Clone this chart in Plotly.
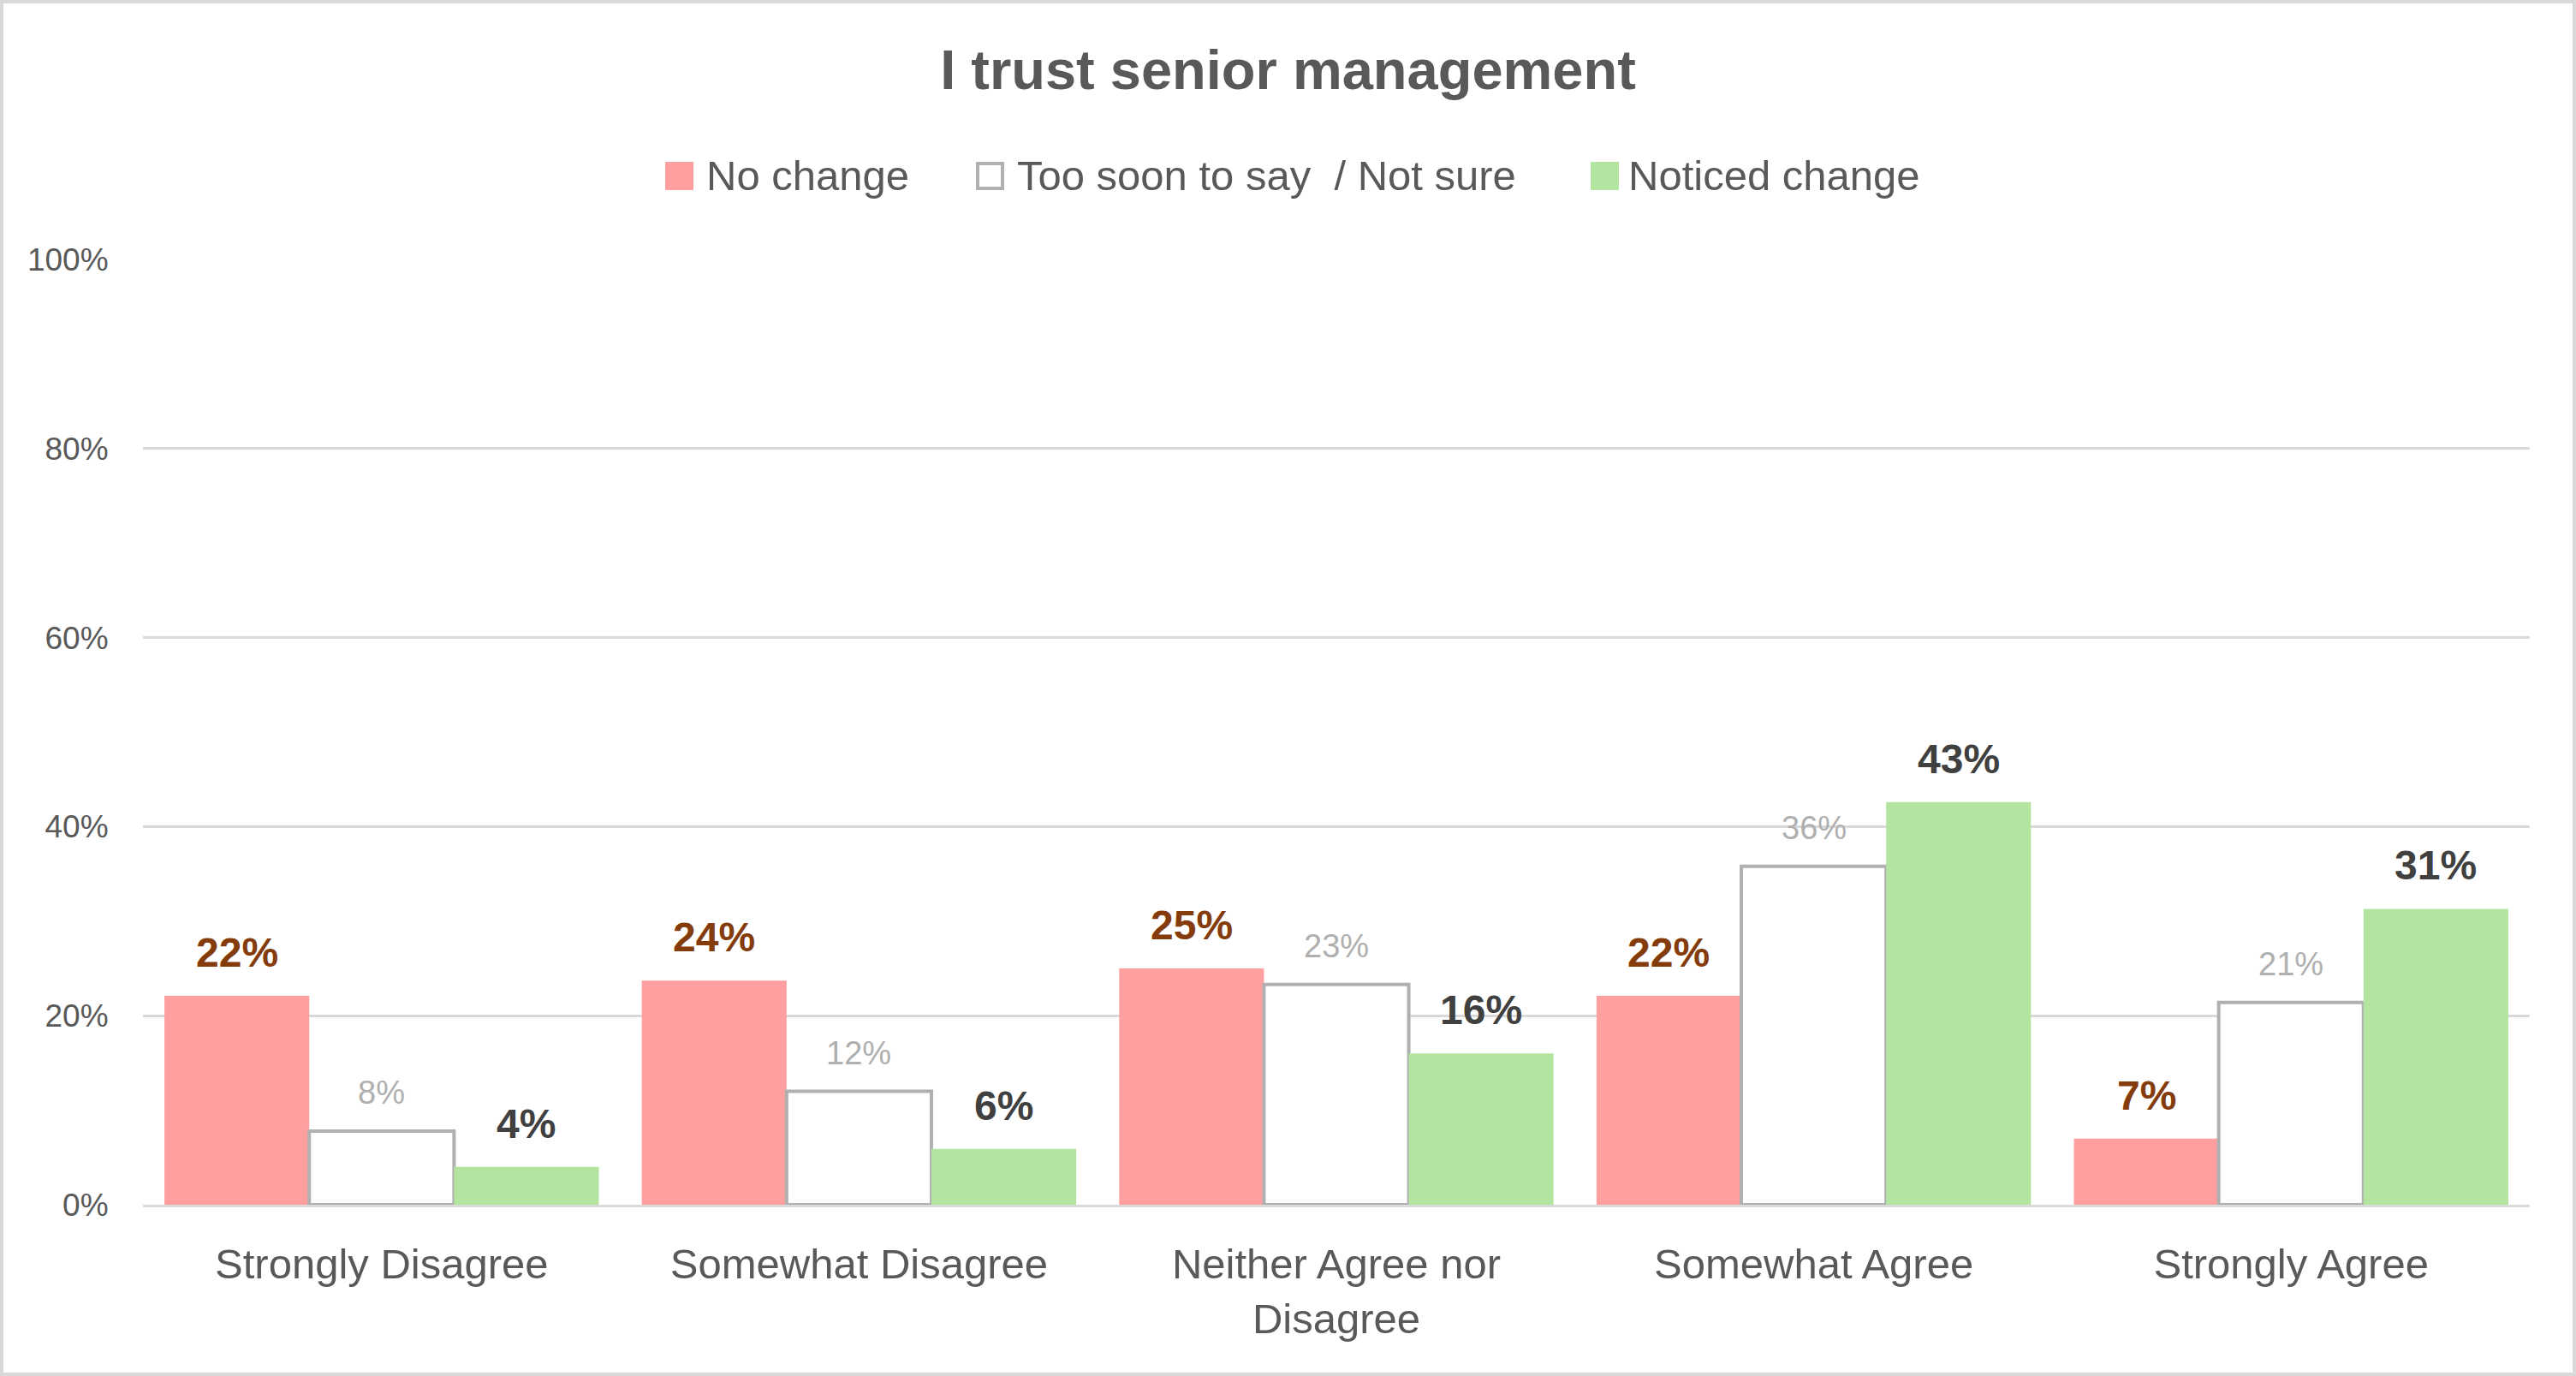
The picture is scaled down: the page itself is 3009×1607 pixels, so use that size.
import plotly.graph_objects as go

# Survey answers and the share of each group giving them
categories = ["Strongly Disagree", "Somewhat Disagree", "Neither Agree nor<br>Disagree",
              "Somewhat Agree", "Strongly Agree"]
no_change = [0.221, 0.237, 0.250, 0.221, 0.070]
too_soon = [0.078, 0.120, 0.233, 0.358, 0.214]
noticed = [0.040, 0.059, 0.160, 0.426, 0.313]
series_names = ["No change", "Too soon to say  / Not sure", "Noticed change"]
y_ticks = [0, 0.2, 0.4, 0.6, 0.8, 1.0]
y_tick_labels = ["0%", "20%", "40%", "60%", "80%", "100%"]

W, H = 3009, 1607
L, R, T, B = 167, 54, 303, 200
FONT = "Liberation Sans"
GREY = "#595959"
BARGAP = 0.09


# helpers to place legend pieces in paper coords from pixel positions
def px(x):
    return (x - L) / (W - L - R)


def py(y):
    return (H - B - y) / (H - T - B)


bar_px = (W - L - R) / len(categories) * (1 - BARGAP) / 3

series = [
    dict(y=no_change, fill="#FF9F9F", line=dict(width=0),
         lab="<b>{:.0%}</b>", lab_font=dict(color="#843C0C", size=48, family=FONT)),
    dict(y=too_soon, fill="white", line=dict(width=4, color="#B0B0B0"),
         lab="{:.0%}", lab_font=dict(color="#AFAFAF", size=38, family=FONT)),
    dict(y=noticed, fill="#B3E5A1", line=dict(width=0),
         lab="<b>{:.0%}</b>", lab_font=dict(color="#404040", size=48, family=FONT)),
]

fig = go.Figure()
annotations = []
for i, (s, name) in enumerate(zip(series, series_names)):
    fig.add_trace(go.Bar(x=categories, y=s["y"], name=name,
                         marker=dict(color=s["fill"], line=s["line"])))
    # value labels sit a little higher above the bars than plotly's own outside text
    for cat, v in zip(categories, s["y"]):
        annotations.append(dict(xref="x", yref="y", x=cat, y=v, text=s["lab"].format(v),
                                showarrow=False, xanchor="center", yanchor="bottom",
                                xshift=(i - 1) * bar_px, yshift=22, font=s["lab_font"]))

# legend drawn by hand so the swatches match the size of the text
swatches = [
    dict(x0=779, fill="#FF9F9F", line="#FF9F9F", tx=823),
    dict(x0=1142, fill="white", line="#B0B0B0", tx=1186),
    dict(x0=1860, fill="#B3E5A1", line="#B3E5A1", tx=1900),
]
shapes = []
for s, name in zip(swatches, series_names):
    shapes.append(dict(type="rect", xref="paper", yref="paper",
                       x0=px(s["x0"]), x1=px(s["x0"] + 29), y0=py(220), y1=py(191),
                       fillcolor=s["fill"], line=dict(color=s["line"], width=4)))
    annotations.append(dict(xref="paper", yref="paper", x=px(s["tx"]), y=py(205),
                            text=name, showarrow=False, xanchor="left", yanchor="middle",
                            font=dict(size=49, color=GREY, family=FONT)))

# light grey frame round the whole chart
shapes.append(dict(type="rect", xref="paper", yref="paper",
                   x0=px(2), x1=px(W - 2), y0=py(H - 2), y1=py(2),
                   line=dict(color="#D9D9D9", width=4), fillcolor="rgba(0,0,0,0)"))

fig.update_layout(
    width=W, height=H,
    margin=dict(l=L, r=R, t=T, b=B),
    paper_bgcolor="white", plot_bgcolor="white",
    barmode="group", bargap=BARGAP, bargroupgap=0,
    showlegend=False,
    title=dict(text="<b>I trust senior management</b>", x=0.5, xanchor="center",
               y=1 - 81 / H, yanchor="middle",
               font=dict(size=65, color=GREY, family=FONT)),
    font=dict(family=FONT, color=GREY),
    shapes=shapes, annotations=annotations,
    xaxis=dict(showgrid=False, showline=True, linecolor="#D9D9D9", linewidth=3,
               ticks="outside", ticklen=24, tickcolor="rgba(0,0,0,0)",
               tickfont=dict(size=49, color=GREY, family=FONT)),
    yaxis=dict(range=[0, 1], tickvals=y_ticks, ticktext=y_tick_labels,
               showgrid=True, gridcolor="#D9D9D9", gridwidth=3, zeroline=False,
               ticks="outside", ticklen=32, tickcolor="rgba(0,0,0,0)",
               tickfont=dict(size=37, color=GREY, family=FONT)),
)

# drop the browser's default body margin so the chart sits flush in the window
fig.write_html("out.html", config={"displayModeBar": False},
               post_script="document.body.style.margin='0px';")
